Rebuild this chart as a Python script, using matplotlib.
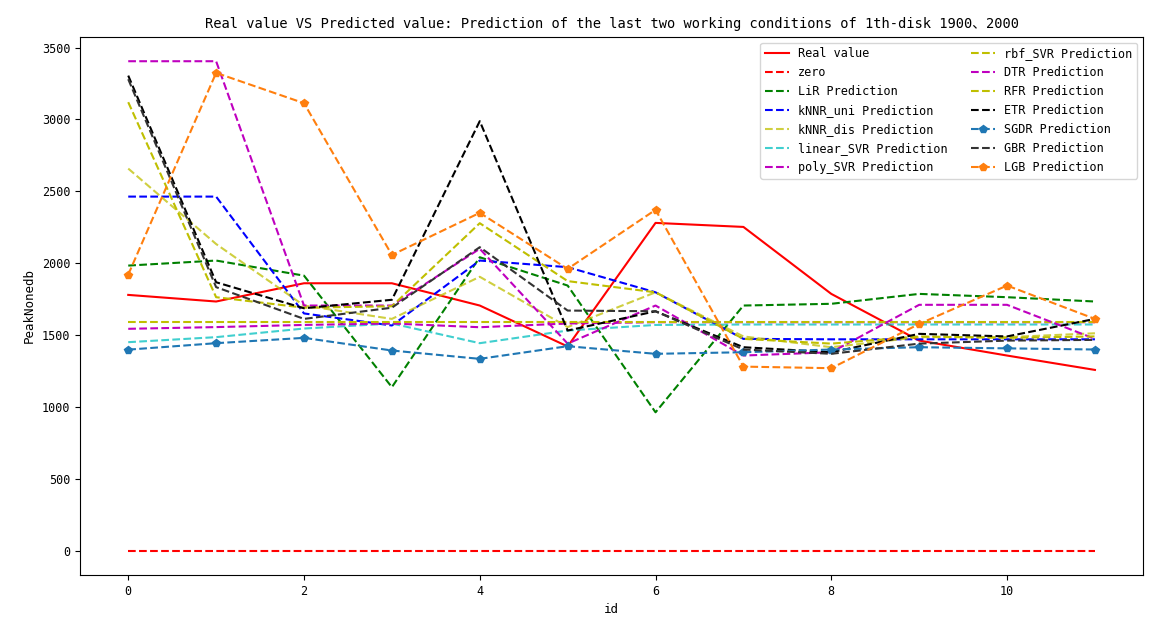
import numpy as np
import matplotlib.pyplot as plt

plt.rcParams['font.family'] = ['DejaVu Sans Mono', 'Noto Sans CJK SC']
plt.rcParams['xtick.labelsize'] = 8.5
plt.rcParams['ytick.labelsize'] = 8.5

ids = np.arange(12)

real = [1779, 1733, 1860, 1860, 1705, 1420, 2280, 2252, 1786, 1461, 1357, 1257]
zero = [0] * 12
lir = [1983, 2018, 1913, 1137, 2041, 1844, 962, 1705, 1717, 1786, 1763, 1733]
knnr_uni = [2463, 2463, 1650, 1566, 2018, 1972, 1797, 1473, 1470, 1470, 1470, 1470]
knnr_dis = [2658, 2133, 1705, 1612, 1905, 1555, 1797, 1490, 1415, 1485, 1485, 1512]
linear_svr = [1450, 1485, 1545, 1580, 1443, 1531, 1570, 1573, 1573, 1573, 1573, 1573]
poly_svr = [1543, 1555, 1570, 1580, 1554, 1580, 1589, 1589, 1589, 1589, 1589, 1589]
rbf_svr = [1589] * 12
dtr = [3405, 3405, 1705, 1705, 2100, 1440, 1705, 1357, 1380, 1710, 1710, 1473]
rfr = [3120, 1763, 1690, 1700, 2278, 1875, 1797, 1473, 1440, 1490, 1480, 1490]
etr = [3305, 1867, 1686, 1745, 2988, 1531, 1665, 1415, 1380, 1508, 1490, 1612]
sgdr = [1398, 1443, 1480, 1392, 1334, 1422, 1369, 1380, 1399, 1415, 1407, 1399]
gbr = [3280, 1833, 1612, 1690, 2111, 1670, 1665, 1399, 1369, 1440, 1461, 1466]
lgb = [1920, 3324, 3113, 2057, 2350, 1960, 2371, 1280, 1269, 1577, 1844, 1612]

fig = plt.figure(figsize=(11.75, 6.23), dpi=100)
ax = fig.add_subplot(111)
fig.subplots_adjust(left=0.068, right=0.973, top=0.941, bottom=0.077)

ax.plot(ids, real, 'r-', label='Real value')
ax.plot(ids, zero, 'r--', label='zero')
ax.plot(ids, lir, 'g--', label='LiR Prediction')
ax.plot(ids, knnr_uni, 'b--', label='kNNR_uni Prediction')
ax.plot(ids, knnr_dis, 'y--', alpha=0.75, label='kNNR_dis Prediction')
ax.plot(ids, linear_svr, 'c--', alpha=0.75, label='linear_SVR Prediction')
ax.plot(ids, poly_svr, 'm--', label='poly_SVR Prediction')
ax.plot(ids, rbf_svr, 'y--', label='rbf_SVR Prediction')
ax.plot(ids, dtr, 'm--', label='DTR Prediction')
ax.plot(ids, rfr, 'y--', label='RFR Prediction')
ax.plot(ids, etr, 'k--', label='ETR Prediction')
ax.plot(ids, sgdr, 'p--', color='#1f77b4', label='SGDR Prediction')
ax.plot(ids, gbr, '--', color='#333333', label='GBR Prediction')
ax.plot(ids, lgb, 'p--', color='#ff7f0e', label='LGB Prediction')

ax.set_title('Real value VS Predicted value: Prediction of the last two working conditions of 1th-disk 1900、2000',
             fontsize=9.9)
ax.set_xlabel('id', fontsize=9)
ax.set_ylabel('PeakNonedb', fontsize=9)
ax.legend(ncol=2, loc='upper right', fontsize=8.5)

plt.savefig('out.png', dpi=100)
